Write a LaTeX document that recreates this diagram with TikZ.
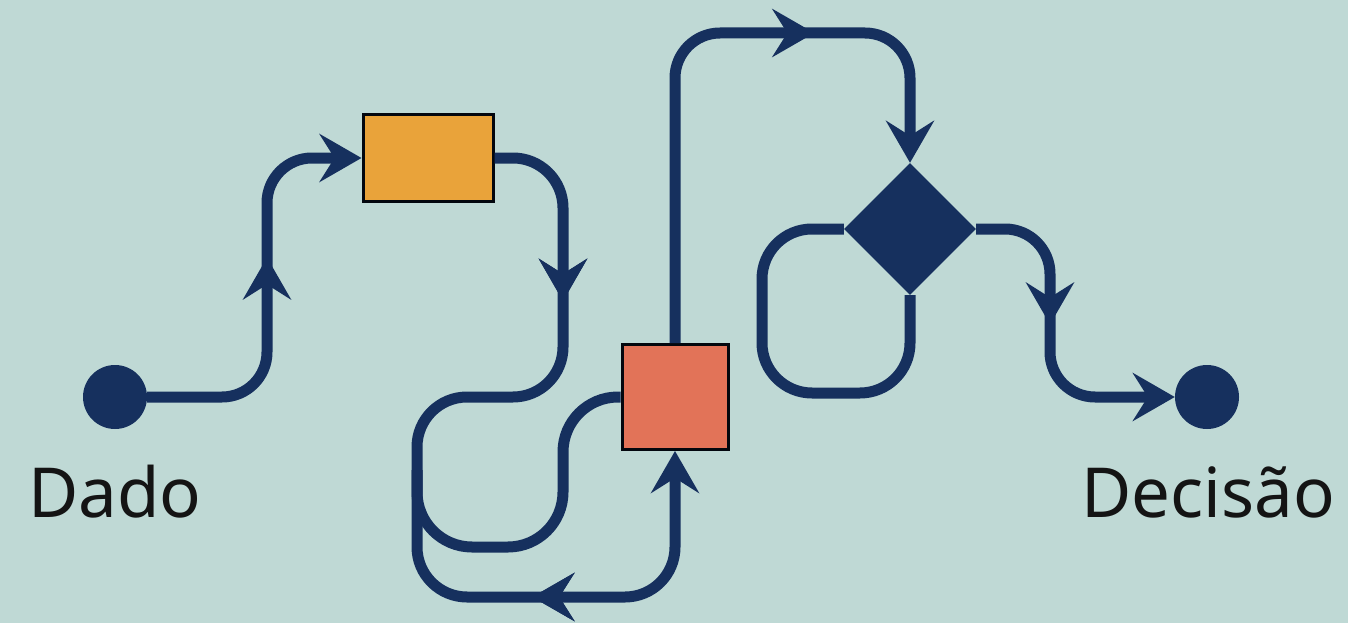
\documentclass[tikz,border=0pt]{standalone}
\usepackage{fontspec}
\setmainfont{Noto Sans}
\usetikzlibrary{arrows.meta,shapes.geometric,decorations.markings}

\definecolor{bgcol}{RGB}{191,217,213}
\definecolor{navy}{RGB}{22,48,94}
\definecolor{boxorange}{RGB}{233,163,58}
\definecolor{boxred}{RGB}{226,115,88}

\tikzset{
  flow/.style={draw=navy, line width=11pt, rounded corners=45pt},
  >={Stealth[length=42pt,width=48pt,inset=15pt]},
  midarrow/.style={postaction={decorate},
    decoration={markings, mark=at position #1 with {\arrow{>}}}},
  backarrow/.style={postaction={decorate},
    decoration={markings, mark=at position #1 with {\arrowreversed{>}}}},
  dot/.style={circle, fill=navy, minimum size=64pt, inner sep=0pt},
  stepbox/.style={draw=black!85!navy, line width=3pt, inner sep=0pt},
  lbl/.style={font=\fontsize{69pt}{82pt}\selectfont, text=black!92},
}

\begin{document}
\begin{tikzpicture}[x=1pt,y=-1pt]
  \fill[bgcol] (0,0) rectangle (1348,623);

  \node[dot] (dado) at (115,397) {};
  \node[dot] (decisao) at (1207,397) {};
  \node[stepbox, fill=boxorange, minimum width=130pt, minimum height=87pt] (prep) at (428,158) {};
  \node[stepbox, fill=boxred, minimum width=106pt, minimum height=105pt] (proc) at (675,397) {};
  \node[diamond, fill=navy, inner sep=0pt, minimum width=132pt, minimum height=132pt] (choice) at (910,229) {};

  \node[lbl, anchor=base] (dadolbl) at (115,517) {Dado};
  \node[lbl, anchor=base] (decisaolbl) at (1208,517) {Decisão};

  % connectors
  \draw[flow, ->, midarrow=240pt] (dado) -- (267,397) -- (267,158) -- (prep);
  \draw[flow, rounded corners=50pt, ->, midarrow=190pt, backarrow=683pt]
    (prep) -- (563,158) -- (563,397) -- (417,397) -- (417,597) -- (675,597) -- (proc);
  \draw[flow, rounded corners=55pt] (proc) -- (563,397) -- (563,547) -- (417,547) -- (417,470);
  \draw[flow, ->, midarrow=430pt] (proc) -- (675,33) -- (910,33) -- (choice);
  \draw[flow, rounded corners=50pt] (choice) -- (762,229) -- (762,393) -- (910,393) -- (choice);
  \draw[flow, ->, midarrow=150pt] (choice) -- (1050,229) -- (1050,397) -- (decisao);
\end{tikzpicture}
\end{document}
